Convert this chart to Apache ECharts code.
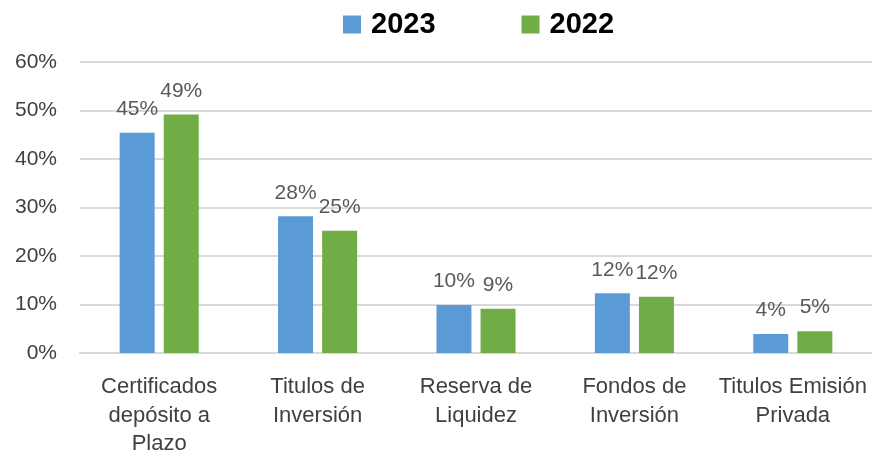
<!DOCTYPE html>
<html><head><meta charset="utf-8">
<script src="https://cdn.jsdelivr.net/npm/echarts@6/dist/echarts.min.js"></script>
<style>html,body{margin:0;padding:0;background:#fff}#c{width:872px;height:454px}</style>
</head><body><div id="c"></div>
<script>
const categories = ['Certificados\ndepósito a\nPlazo', 'Titulos de\nInversión', 'Reserva de\nLiquidez', 'Fondos de\nInversión', 'Titulos Emisión\nPrivada'];
const series2023 = [45.4, 28.2, 9.9, 12.3, 3.9];
const series2022 = [49.2, 25.2, 9.1, 11.6, 4.5];
const yTicks = [0, 10, 20, 30, 40, 50, 60];
const FONT = 'Liberation Sans';
const chart = echarts.init(document.getElementById('c'), null, {renderer: 'canvas'});
const lbl = {show: true, position: 'top', distance: 13, color: '#595959', fontSize: 21, fontFamily: FONT,
  formatter: p => Math.round(p.value) + '%'};
chart.setOption({
  animation: false,
  textStyle: {fontFamily: FONT},
  legend: {
    top: 10, left: 343, padding: 0, itemWidth: 18, itemHeight: 18, itemGap: 86,
    icon: 'rect',
    textStyle: {fontSize: 29, fontWeight: 'bold', color: '#000', fontFamily: FONT, padding: [0, 0, 0, 5]},
    data: ['2023', '2022']
  },
  grid: {left: 80, right: 0, top: 62, bottom: 101, containLabel: false, outerBoundsMode: 'none'},
  xAxis: {
    type: 'category', data: categories,
    axisLine: {lineStyle: {color: '#d9d9d9', width: 2}},
    axisTick: {show: false},
    axisLabel: {color: '#404040', fontSize: 22, lineHeight: 28.5, margin: 20, fontFamily: FONT, interval: 0}
  },
  yAxis: {
    type: 'value', min: yTicks[0], max: yTicks[yTicks.length - 1], interval: 10,
    axisLine: {show: false}, axisTick: {show: false},
    splitLine: {lineStyle: {color: '#d9d9d9', width: 2}},
    axisLabel: {color: '#404040', fontSize: 21, margin: 23, fontFamily: FONT, formatter: '{value}%'}
  },
  series: [
    {name: '2023', type: 'bar', data: series2023, barWidth: 35, barGap: '26%', itemStyle: {color: '#5B9BD5'}, label: lbl},
    {name: '2022', type: 'bar', data: series2022, barWidth: 35, barGap: '26%', itemStyle: {color: '#70AD47'}, label: lbl}
  ]
});
</script></body></html>
